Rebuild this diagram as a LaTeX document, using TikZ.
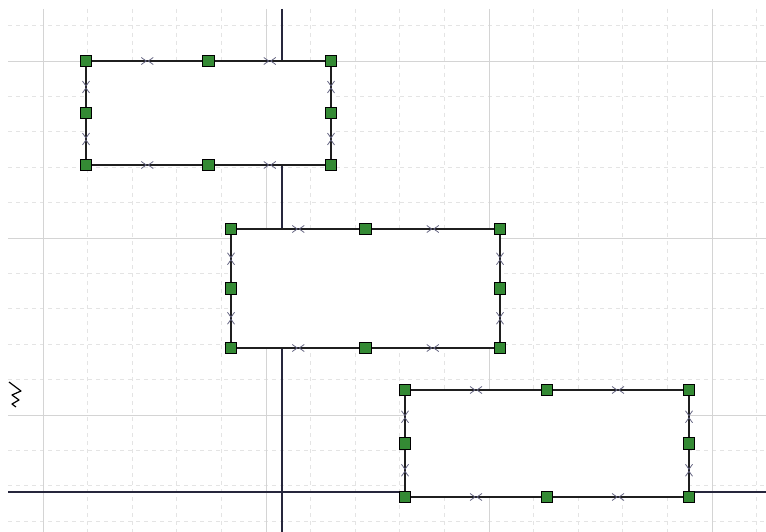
\documentclass[tikz,border=0pt]{standalone}
\usetikzlibrary{calc}
\definecolor{gmin}{RGB}{228,228,228}
\definecolor{gmaj}{RGB}{212,212,212}
\definecolor{axisc}{RGB}{38,38,60}
\definecolor{hgreen}{RGB}{52,138,52}
\definecolor{markc}{RGB}{95,95,125}
\tikzset{
 handle/.style={rectangle, draw=black, line width=0.9pt, fill=hgreen, minimum size=11.5pt, inner sep=0pt},
 edgeline/.style={draw=black!88, line width=1.4pt},
 minorgrid/.style={draw=gmin, line width=0.8pt, dash pattern=on 4pt off 4pt},
 majorgrid/.style={draw=gmaj, line width=0.9pt},
 axisline/.style={draw=axisc, line width=1.7pt},
 xmark/.style={draw=markc, line width=0.75pt},
}
\newcommand\hmark[1]{\draw[xmark] ($(#1)+(-6,-3.5)$) -- ($(#1)+(-1,0)$) -- ($(#1)+(-6,3.5)$) ($(#1)+(6,-3.5)$) -- ($(#1)+(1,0)$) -- ($(#1)+(6,3.5)$);}
\newcommand\vmark[1]{\draw[xmark] ($(#1)+(-3.5,-6)$) -- ($(#1)+(0,-1)$) -- ($(#1)+(3.5,-6)$) ($(#1)+(-3.5,6)$) -- ($(#1)+(0,1)$) -- ($(#1)+(3.5,6)$);}
\newcommand\handlerect[5]{%
 \pgfmathsetmacro\mx{(#2+#4)/2}\pgfmathsetmacro\my{(#3+#5)/2}
 \fill[white] (#2,#3) rectangle (#4,#5);
 \coordinate (#1-tl) at (#2,#3); \coordinate (#1-tm) at (\mx,#3); \coordinate (#1-tr) at (#4,#3);
 \coordinate (#1-ml) at (#2,\my); \coordinate (#1-mr) at (#4,\my);
 \coordinate (#1-bl) at (#2,#5); \coordinate (#1-bm) at (\mx,#5); \coordinate (#1-br) at (#4,#5);
 \draw[edgeline] (#1-tl) -- (#1-tm) -- (#1-tr) -- (#1-mr) -- (#1-br) -- (#1-bm) -- (#1-bl) -- (#1-ml) -- cycle;
 \hmark{$(#1-tl)!0.5!(#1-tm)$}\hmark{$(#1-tm)!0.5!(#1-tr)$}
 \hmark{$(#1-bl)!0.5!(#1-bm)$}\hmark{$(#1-bm)!0.5!(#1-br)$}
 \vmark{$(#1-tl)!0.5!(#1-ml)$}\vmark{$(#1-ml)!0.5!(#1-bl)$}
 \vmark{$(#1-tr)!0.5!(#1-mr)$}\vmark{$(#1-mr)!0.5!(#1-br)$}
 \foreach \p in {tl,tm,tr,ml,mr,bl,bm,br} \node[handle] (#1-h-\p) at (#1-\p) {};
}
\begin{document}
\begin{tikzpicture}[x=1pt,y=-1pt]
\useasboundingbox (0,0) rectangle (766,532);
\fill[white] (0,0) rectangle (766,532);
% grid
\foreach \x in {87.6,132.2,176.8,221.4,310.6,355.2,399.8,444.4,533.6,578.2,622.8,667.4,756.6}
  \draw[minorgrid] (\x,9) -- (\x,532);
\foreach \y in {25.6,96.4,131.8,167.2,202.6,273.4,308.8,344.2,379.6,450.4,485.8,521.2}
  \draw[minorgrid] (8,\y) -- (766,\y);
\foreach \x in {43,266,489,712}
  \draw[majorgrid] (\x,9) -- (\x,532);
\foreach \y in {61,238,415}
  \draw[majorgrid] (8,\y) -- (766,\y);
% axes
\coordinate (vtop) at (282,9); \coordinate (vbot) at (282,532);
\coordinate (hleft) at (8,492); \coordinate (hright) at (766,492);
\draw[axisline] (vtop) -- (vbot);
\draw[axisline] (hleft) -- (hright);
% shapes
\handlerect{r1}{86}{61}{331}{165}
\handlerect{r2}{231}{229}{500}{348}
\handlerect{r3}{405}{390}{689}{497}
% cursor glyph
\draw[black, line width=1.2pt, line join=round] (9,382) -- (21,391) -- (12,395) -- (19,400) -- (12,404) -- (16,407);
\end{tikzpicture}
\end{document}
